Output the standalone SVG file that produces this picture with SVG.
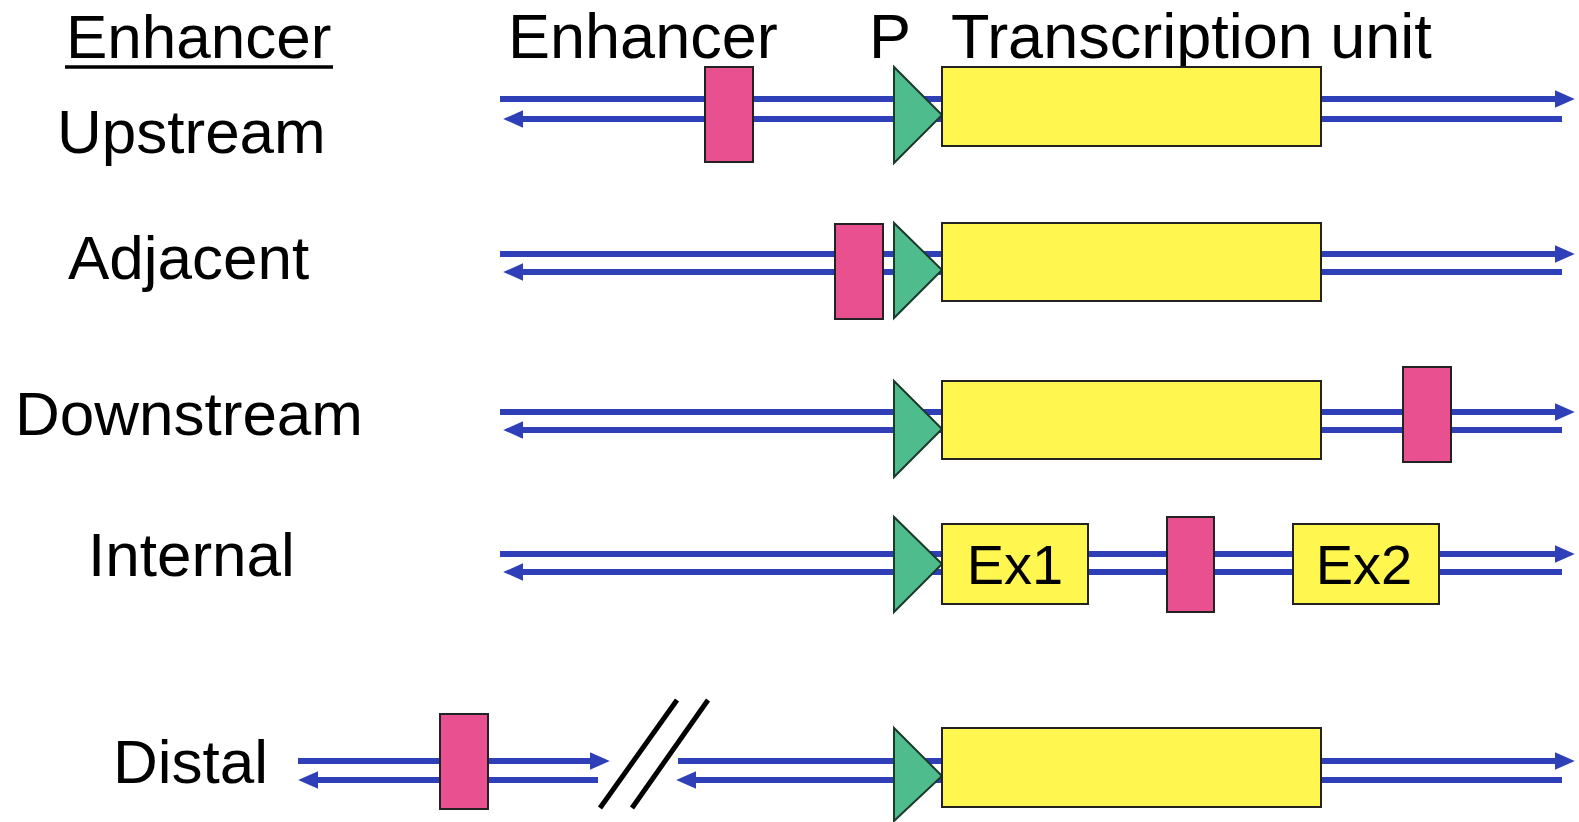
<svg xmlns="http://www.w3.org/2000/svg" width="1579" height="822" viewBox="0 0 1579 822">
<style>
text{font-family:"Liberation Sans",Arial,sans-serif;font-size:62px;fill:#000}
.hd{font-size:63px}
.ex{font-size:56px;text-anchor:middle}
.dna{stroke:#2f3fb8;stroke-width:6;fill:none}
.fwd{marker-end:url(#ah)}
.rev{marker-end:url(#ah)}
.enh{fill:#e9508f;stroke:#222;stroke-width:2}
.pro{fill:#4fbc8e;stroke:#1a3a2a;stroke-width:2}
.tu{fill:#fff650;stroke:#222;stroke-width:2}
.brk{stroke:#000;stroke-width:5}
</style>
<defs>
<marker id="ah" markerUnits="userSpaceOnUse" markerWidth="20" markerHeight="18" viewBox="0 0 18 16" refX="2" refY="8" orient="auto">
<path d="M0,0 L18,8 L0,16 z" fill="#2f3fb8"/>
</marker>
</defs>
<rect width="1579" height="822" fill="#fff"/>

<g id="connectors">
<line class="dna fwd" x1="500" y1="99" x2="1557" y2="99"/>
<line class="dna rev" x1="1562" y1="119" x2="521" y2="119"/>
<line class="dna fwd" x1="500" y1="254" x2="1557" y2="254"/>
<line class="dna rev" x1="1562" y1="272" x2="521" y2="272"/>
<line class="dna fwd" x1="500" y1="412" x2="1557" y2="412"/>
<line class="dna rev" x1="1562" y1="430" x2="521" y2="430"/>
<line class="dna fwd" x1="500" y1="554" x2="1557" y2="554"/>
<line class="dna rev" x1="1562" y1="572" x2="521" y2="572"/>
<line class="dna fwd" x1="298" y1="761" x2="592" y2="761"/>
<line class="dna rev" x1="598" y1="780" x2="316" y2="780"/>
<line class="dna fwd" x1="678" y1="761" x2="1557" y2="761"/>
<line class="dna rev" x1="1562" y1="780" x2="694" y2="780"/>
<line class="brk" x1="600" y1="808" x2="677" y2="700"/>
<line class="brk" x1="632" y1="808" x2="708" y2="700"/>
</g>

<g id="labels">
<text x="66" y="58">Enhancer</text>
<line x1="65" y1="67" x2="333" y2="67" stroke="#000" stroke-width="3.5"/>
<text class="hd" x="508" y="58">Enhancer</text>
<text class="hd" x="869" y="58">P</text>
<text class="hd" x="951" y="58">Transcription unit</text>
<text x="57" y="153">Upstream</text>
<text x="68" y="279">Adjacent</text>
<text x="15" y="435">Downstream</text>
<text x="88" y="576">Internal</text>
<text x="113" y="783">Distal</text>
</g>

<g id="row-upstream">
<rect class="enh" x="705" y="67" width="48" height="95"/>
<polygon class="pro" points="894,67 894,163 942,115"/>
<rect class="tu" x="942" y="67" width="379" height="79"/>
</g>

<g id="row-adjacent">
<rect class="enh" x="835" y="224" width="48" height="95"/>
<polygon class="pro" points="894,223 894,318 942,270"/>
<rect class="tu" x="942" y="223" width="379" height="78"/>
</g>

<g id="row-downstream">
<polygon class="pro" points="894,381 894,477 942,429"/>
<rect class="tu" x="942" y="381" width="379" height="78"/>
<rect class="enh" x="1403" y="367" width="48" height="95"/>
</g>

<g id="row-internal">
<polygon class="pro" points="894,517 894,612 942,564"/>
<g id="ex1">
<rect class="tu" x="942" y="524" width="146" height="80"/>
<text class="ex" x="1015" y="584">Ex1</text>
</g>
<rect class="enh" x="1167" y="517" width="47" height="95"/>
<g id="ex2">
<rect class="tu" x="1293" y="524" width="146" height="80"/>
<text class="ex" x="1364" y="584">Ex2</text>
</g>
</g>

<g id="row-distal">
<rect class="enh" x="440" y="714" width="48" height="95"/>
<polygon class="pro" points="894,728 894,821 942,776"/>
<rect class="tu" x="942" y="728" width="379" height="79"/>
</g>
</svg>
